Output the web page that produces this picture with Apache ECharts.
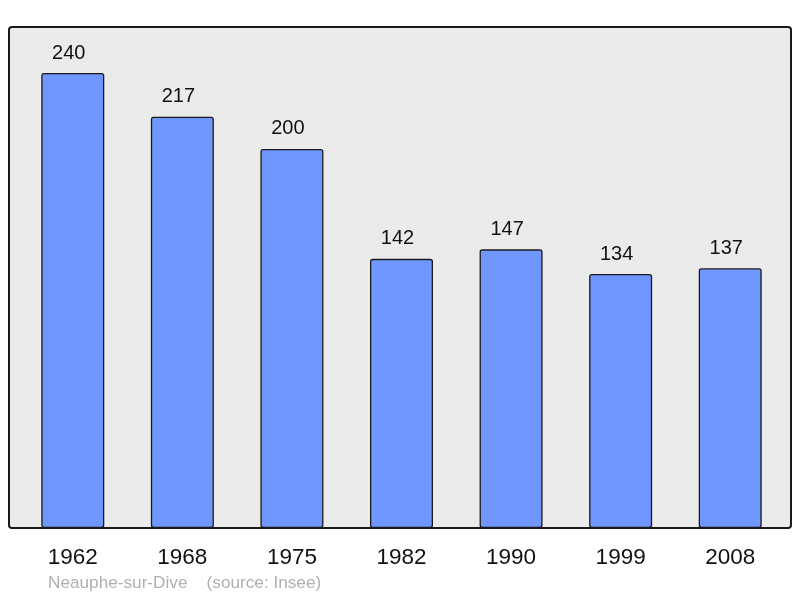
<!DOCTYPE html>
<html>
<head>
<meta charset="utf-8">
<script src="https://cdn.jsdelivr.net/npm/echarts@6/dist/echarts.min.js"></script>
<style>html,body{margin:0;padding:0;background:#fff;}#c{width:800px;height:598px;}</style>
</head>
<body>
<div id="c"></div>
<script>
const years = ['1962','1968','1975','1982','1990','1999','2008'];
const population = [240, 217, 200, 142, 147, 134, 137];
const sourceText = 'Neauphe-sur-Dive    (source: Insee)';

const chart = echarts.init(document.getElementById('c'), null, {renderer: 'canvas'});
chart.setOption({
  animation: false,
  backgroundColor: '#ffffff',
  graphic: [
    {type: 'rect', z: -10, shape: {x: 9, y: 27, width: 782, height: 501, r: 3},
     style: {fill: '#ebebeb', stroke: '#1a1a1a', lineWidth: 2}},
    {type: 'text', left: 48, top: 575, z: 10,
     style: {text: sourceText, fill: '#b0b0b0', font: '17.2px "Liberation Sans", Arial, sans-serif'}}
  ],
  grid: {left: 18, right: 15, top: 27, bottom: 70, containLabel: false},
  xAxis: {
    type: 'category', data: years,
    axisLine: {show: false}, axisTick: {show: false},
    axisLabel: {color: '#111', fontSize: 22.5, margin: 18, fontFamily: '"Liberation Sans", Arial, sans-serif'}
  },
  yAxis: {type: 'value', min: 0, max: 264.3, show: false, splitLine: {show: false}},
  series: [{
    type: 'bar', data: population, barWidth: 63,
    itemStyle: {color: '#7097ff', borderColor: '#1a1a1a', borderWidth: 1.3, borderRadius: 2},
    label: {show: true, position: 'top', distance: 10, offset: [-4, 0], color: '#111', fontSize: 20,
            fontFamily: '"Liberation Sans", Arial, sans-serif'}
  }]
});
</script>
</body>
</html>
